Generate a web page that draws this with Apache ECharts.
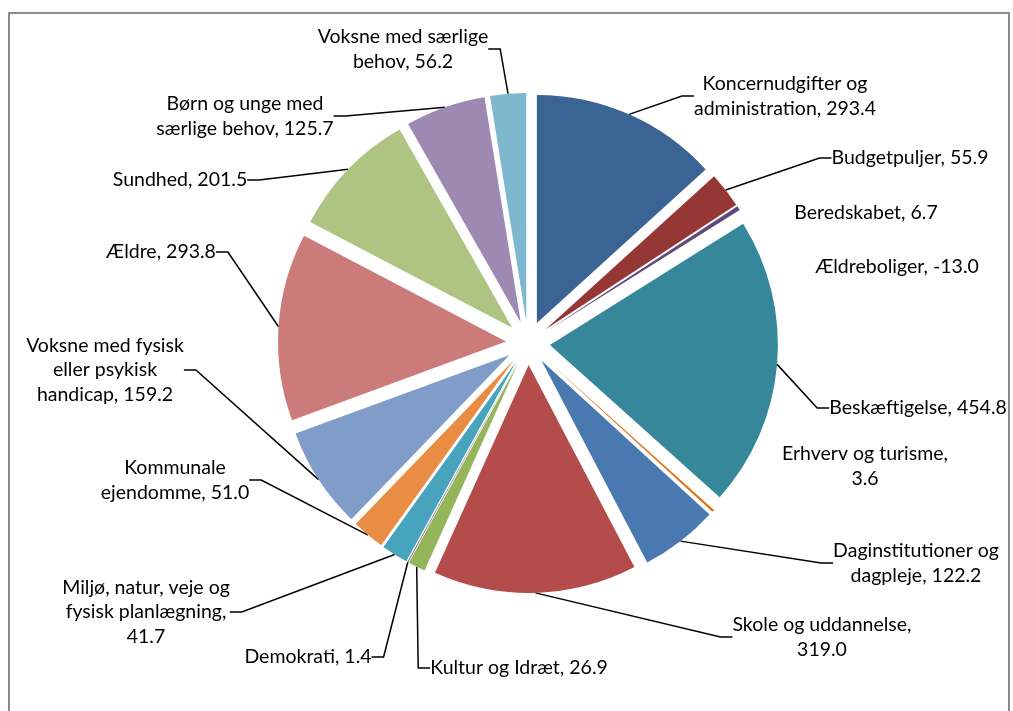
<!DOCTYPE html>
<html>
<head>
<meta charset="utf-8">
<script src="https://cdn.jsdelivr.net/npm/echarts@6/dist/echarts.min.js"></script>
<style>
  html, body { margin: 0; padding: 0; background: #ffffff; }
  #chart { width: 1013px; height: 711px; }
</style>
</head>
<body>
<div id="chart"></div>
<script>
// ---- data ----
const categories = [
  "Koncernudgifter og\nadministration",
  "Budgetpuljer",
  "Beredskabet",
  "Ældreboliger",
  "Beskæftigelse",
  "Erhverv og turisme",
  "Daginstitutioner og\ndagpleje",
  "Skole og uddannelse",
  "Kultur og Idræt",
  "Demokrati",
  "Miljø, natur, veje og\nfysisk planlægning",
  "Kommunale\nejendomme",
  "Voksne med fysisk\neller psykisk\nhandicap",
  "Ældre",
  "Sundhed",
  "Børn og unge med\nsærlige behov",
  "Voksne med særlige\nbehov"
];
const values = [293.4, 55.9, 6.7, -13.0, 454.8, 3.6, 122.2, 319.0, 26.9, 1.4, 41.7, 51.0, 159.2, 293.8, 201.5, 125.7, 56.2];

// ---- styling / layout (not data) ----
const colors = ["#3A6494", "#953735", "#604A7B", "#31859C", "#37879A", "#E46C0A", "#4A79B1", "#B34C4A",
  "#94B55A", "#7E65A0", "#48A4BC", "#E88D43", "#809DCA", "#CA7B7A", "#ADC483", "#9D89B2", "#7DB8CE"];
const valueOnNewLine = [false, false, false, false, false, true, false, true, false, false, true, false, false, false, false, false, false];
const showLeader = [true, true, false, false, true, false, true, true, true, true, true, true, true, true, true, true, true];
const labelCenters = [
  [785, 96], [910, 158], [866, 213], [897, 267], [918, 408], [865, 466], [916, 563], [822, 637],
  [519, 668], [308, 657], [146, 612], [175, 480], [105, 370], [161, 252], [180, 180], [245, 116], [403, 49]
];
const pieCenter = [528, 343];
const pieRadius = 228;
const explode = 22;

const chart = echarts.init(document.getElementById('chart'), null, { renderer: 'canvas' });

// slice values drawn by the pie (a negative amount gets no area)
const drawn = values.map(v => Math.max(v, 0));
const total = drawn.reduce((a, b) => a + b, 0);

const series = [];
let cum = 0;
drawn.forEach((v, i) => {
  // explode each slice along its own bisector (like Excel's point explosion)
  const mid = (cum + v / 2) / total * 2 * Math.PI;
  cum += v;
  const cx = pieCenter[0] + explode * Math.sin(mid);
  const cy = pieCenter[1] - explode * Math.cos(mid);
  series.push({
    type: 'pie',
    center: [cx, cy],
    radius: [0, pieRadius],
    startAngle: 90,
    clockwise: true,
    silent: true,
    avoidLabelOverlap: false,
    emphasis: { disabled: true },
    data: categories.map((name, j) => ({
      name: name,
      value: drawn[j],
      itemStyle: j === i ? { color: colors[j] } : { color: 'rgba(0,0,0,0)' },
      label: { show: j === i },
      labelLine: { show: j === i && showLeader[j] }
    })),
    label: {
      position: 'outside',
      fontFamily: 'Lato',
      fontSize: 19.5,
      lineHeight: 24.5,
      color: '#000000',
      align: 'center',
      formatter: function (p) {
        const k = p.dataIndex;
        return p.name + (valueOnNewLine[k] ? ',\n' : ', ') + values[k].toFixed(1);
      }
    },
    labelLine: {
      length: 20,
      length2: 12,
      smooth: false,
      lineStyle: { color: '#000000', width: 1.5 }
    },
    labelLayout: function (params) {
      if (params.dataIndex !== i) return {};
      const c = labelCenters[i];
      return { x: c[0], y: c[1], align: 'center', verticalAlign: 'middle' };
    }
  });
});

chart.setOption({
  animation: false,
  backgroundColor: '#ffffff',
  graphic: [{
    type: 'rect',
    shape: { x: 9, y: 13, width: 1000, height: 720 },
    style: { fill: 'none', stroke: '#8a8a8a', lineWidth: 2 },
    silent: true
  }],
  series: series
});
</script>
</body>
</html>
